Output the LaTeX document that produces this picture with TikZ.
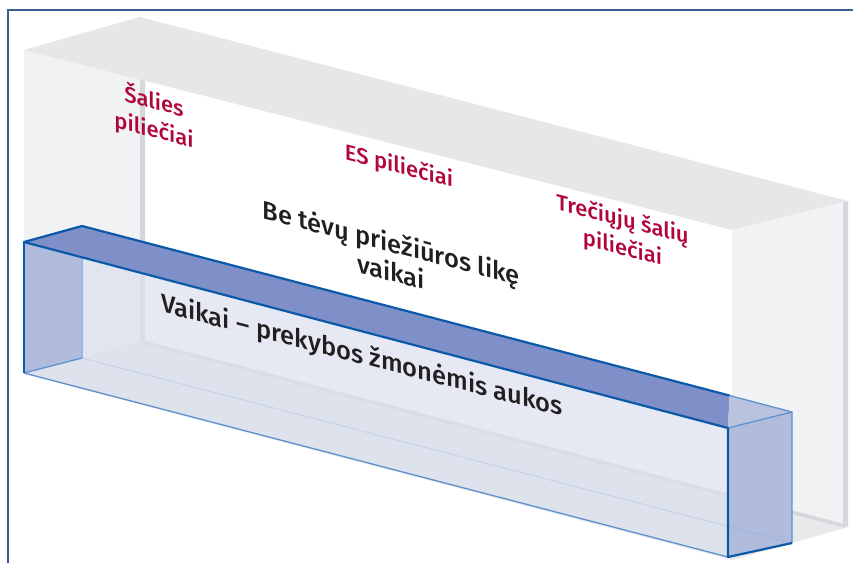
\documentclass[tikz,border=0pt]{standalone}
\usepackage{fontspec}
\setmainfont{Fira Sans}
\newfontfamily\labelfont{Fira Sans Medium}
\definecolor{framecol}{HTML}{3D5F8E}
\definecolor{roof}{HTML}{E6E7E9}
\definecolor{wall}{HTML}{F1F2F4}
\definecolor{seam}{HTML}{D6D7DA}
\definecolor{floorcol}{HTML}{E8E9EB}
\definecolor{lid}{HTML}{7F8FC7}
\definecolor{side}{HTML}{B1BCDC}
\definecolor{pane}{HTML}{DBE0EF}
\definecolor{edgedark}{HTML}{0B5AAA}
\definecolor{edgemid}{HTML}{5E92CF}
\definecolor{edgelight}{HTML}{9DB8E0}
\definecolor{citizen}{HTML}{B1063A}
\definecolor{inktext}{HTML}{231F20}
\begin{document}
\begin{tikzpicture}[x=1pt,y=-1pt,
  redlabel/.style={text=citizen, inner sep=0pt, align=center, yslant=-0.26,
    font=\labelfont\fontsize{22}{28.5}\selectfont},
  blacklabel/.style={text=inktext, inner sep=0pt, align=center, yslant=-0.26,
    font=\labelfont\fontsize{25.5}{29}\selectfont},
  darkedge/.style={draw=edgedark, line width=2.2pt, line join=round},
  midedge/.style={draw=edgemid, line width=1.3pt},
  lightedge/.style={draw=edgelight, line width=1.2pt}]
\useasboundingbox (0,0) rectangle (853,563);

% outer box corners
\coordinate (P) at (24,50);   \coordinate (Q) at (140,17);
\coordinate (R) at (848,201); \coordinate (S) at (732,230);
\coordinate (Pb) at (24,374);  \coordinate (Qb) at (140,341);
\coordinate (Rb) at (848,527); \coordinate (Sb) at (732,560);
% inner box corners
\coordinate (A) at (24,242);  \coordinate (B) at (82,226);
\coordinate (C) at (792,412); \coordinate (D) at (728,428);
\coordinate (E) at (24,373);  \coordinate (F) at (82,358);
\coordinate (G) at (792,543); \coordinate (H) at (728,557);
\coordinate (C1) at (729.5,395.5);

\draw[framecol, line width=2pt] (8,563) -- (8,9.5) -- (853,9.5);

\fill[wall] (P) -- (Q) -- (Qb) -- (Pb) -- cycle;
\fill[roof] (P) -- (Q) -- (R) -- (S) -- cycle;
\fill[seam] (140,79.6) -- (145,80.9) -- (145,342.5) -- (140,341) -- cycle;
\fill[wall] (S) -- (R) -- (Rb) -- (Sb) -- cycle;
\fill[seam] (843,202.5) -- (848,201) -- (848,527) -- (843,525.5) -- cycle;
\fill[floorcol] (Pb) -- (Qb) -- (Rb) -- (Sb) -- cycle;
\draw[seam, line width=3.5pt] (143,342) -- (845,526);

\fill[side] (D) -- (C) -- (G) -- (H) -- cycle;
\draw[lightedge] (F) -- (G);
\fill[pane, opacity=0.7] (A) -- (D) -- (H) -- (E) -- cycle;
\fill[side] (A) -- (B) -- (F) -- (E) -- cycle;
\draw[lightedge] (B) -- (F);
\fill[lid] (A) -- (B) -- (C1) -- (D) -- cycle;
\fill[side!90!white] (C1) -- (C) -- (D) -- cycle;
\draw[midedge] (E) -- (F);
\draw[midedge] (E) -- (H);
\draw[midedge] (C1) -- (C) -- (G);
\draw[midedge] (D) -- (C);
\draw[darkedge] (C1) -- (B) -- (A) -- (D) -- (H) -- (G);
\draw[darkedge] (A) -- (E);

\node[redlabel] (home) at (154,115.5) {Šalies\\piliečiai};
\node[redlabel] (eu) at (399,167) {ES piliečiai};
\node[redlabel] (third) at (622.5,234.5) {Trečiųjų šalių\\piliečiai};
\node[blacklabel] (care) at (391,256.5) {Be tėvų priežiūros likę\\vaikai};
\node[blacklabel] (traffic) at (362,356.5) {Vaikai – prekybos žmonėmis aukos};
\end{tikzpicture}
\end{document}
